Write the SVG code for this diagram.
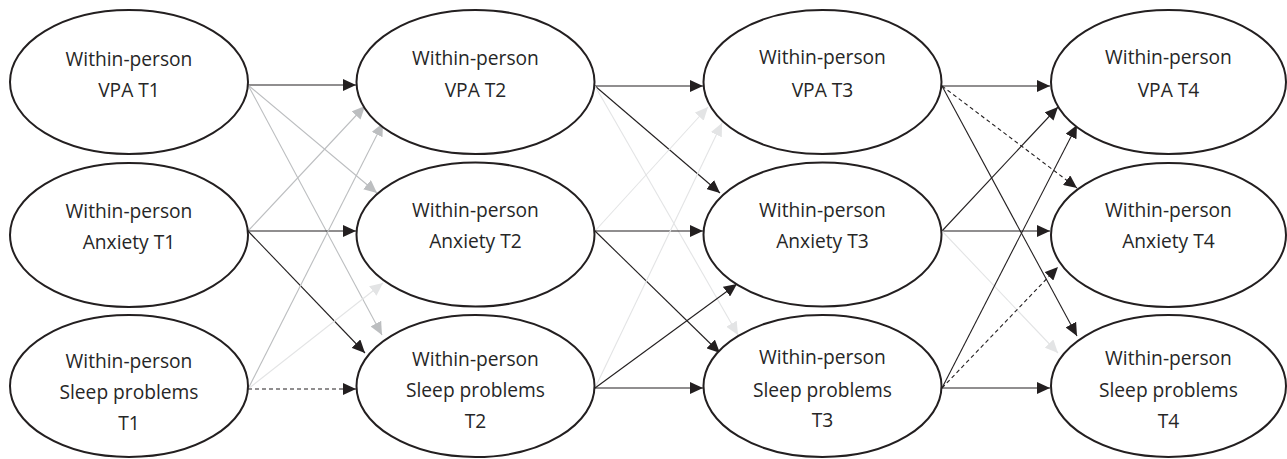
<svg xmlns="http://www.w3.org/2000/svg" width="1287" height="459" viewBox="0 0 1287 459">
<style>
.node ellipse{fill:#ffffff;stroke:#231f20;stroke-width:2}
.node text{font-family:"Open Sans","Liberation Sans",sans-serif;font-size:19.2px;fill:#262626;text-anchor:middle}
.c{fill:none;stroke-width:1.1}
.k{stroke:#231f20}
.g{stroke:#bcbec0}
.l{stroke:#e3e4e5}
.d{stroke-dasharray:4 3}
</style>
<defs>
<marker id="ak" markerUnits="userSpaceOnUse" markerWidth="14" markerHeight="12" refX="13" refY="6" orient="auto"><path d="M0,0 L13,6 L0,12 z" fill="#231f20"/></marker>
<marker id="ag" markerUnits="userSpaceOnUse" markerWidth="14" markerHeight="12" refX="13" refY="6" orient="auto"><path d="M0,0 L13,6 L0,12 z" fill="#bcbec0"/></marker>
<marker id="al" markerUnits="userSpaceOnUse" markerWidth="14" markerHeight="12" refX="13" refY="6" orient="auto"><path d="M0,0 L13,6 L0,12 z" fill="#e3e4e5"/></marker>
</defs>
<rect width="1287" height="459" fill="#ffffff"/>
<g id="connectors">
<line class="c k" x1="248" y1="85" x2="356" y2="85" marker-end="url(#ak)"/>
<line class="c g" x1="248" y1="85" x2="377" y2="193" marker-end="url(#ag)"/>
<line class="c g" x1="248" y1="85" x2="382" y2="335" marker-end="url(#ag)"/>
<line class="c g" x1="248" y1="231" x2="365" y2="106" marker-end="url(#ag)"/>
<line class="c k" x1="248" y1="231" x2="356" y2="231" marker-end="url(#ak)"/>
<line class="c k" x1="248" y1="231" x2="365" y2="353" marker-end="url(#ak)"/>
<line class="c g" x1="248" y1="389" x2="383" y2="123" marker-end="url(#ag)"/>
<line class="c l" x1="248" y1="389" x2="383" y2="283" marker-end="url(#al)"/>
<line class="c k d" x1="248" y1="389" x2="356" y2="389" marker-end="url(#ak)"/>

<line class="c k" x1="595" y1="86" x2="703" y2="86" marker-end="url(#ak)"/>
<line class="c k" x1="595" y1="86" x2="720" y2="193" marker-end="url(#ak)"/>
<line class="c l" x1="595" y1="86" x2="738" y2="335" marker-end="url(#al)"/>
<line class="c l" x1="595" y1="231" x2="708" y2="107" marker-end="url(#al)"/>
<line class="c k" x1="595" y1="231" x2="703" y2="231" marker-end="url(#ak)"/>
<line class="c k" x1="595" y1="231" x2="720" y2="353" marker-end="url(#ak)"/>
<line class="c l" x1="595" y1="388" x2="722" y2="123" marker-end="url(#al)"/>
<line class="c k" x1="595" y1="388" x2="737" y2="284" marker-end="url(#ak)"/>
<line class="c k" x1="595" y1="388" x2="703" y2="388" marker-end="url(#ak)"/>

<line class="c k" x1="942" y1="86" x2="1050" y2="86" marker-end="url(#ak)"/>
<line class="c k d" x1="942" y1="86" x2="1077" y2="188" marker-end="url(#ak)"/>
<line class="c k" x1="942" y1="86" x2="1077" y2="336" marker-end="url(#ak)"/>
<line class="c k" x1="942" y1="231" x2="1058" y2="107" marker-end="url(#ak)"/>
<line class="c k" x1="942" y1="231" x2="1050" y2="231" marker-end="url(#ak)"/>
<line class="c l" x1="942" y1="231" x2="1058" y2="353" marker-end="url(#al)"/>
<line class="c k" x1="942" y1="388" x2="1077" y2="125" marker-end="url(#ak)"/>
<line class="c k d" x1="942" y1="388" x2="1058" y2="267" marker-end="url(#ak)"/>
<line class="c k" x1="942" y1="388" x2="1050" y2="388" marker-end="url(#ak)"/>
</g>

<g id="vpa-t1" class="node"><ellipse cx="129" cy="82" rx="119" ry="72"/><text x="129" y="66">Within-person</text><text x="129" y="97">VPA T1</text></g>
<g id="anxiety-t1" class="node"><ellipse cx="129" cy="235" rx="119" ry="72"/><text x="129" y="218">Within-person</text><text x="129" y="249">Anxiety T1</text></g>
<g id="sleep-t1" class="node"><ellipse cx="129" cy="386" rx="119" ry="71"/><text x="129" y="368">Within-person</text><text x="129" y="399">Sleep problems</text><text x="129" y="430">T1</text></g>

<g id="vpa-t2" class="node"><ellipse cx="475.5" cy="82" rx="119" ry="72"/><text x="475.5" y="65">Within-person</text><text x="475.5" y="97">VPA T2</text></g>
<g id="anxiety-t2" class="node"><ellipse cx="475.5" cy="234.5" rx="119" ry="72"/><text x="475.5" y="217">Within-person</text><text x="475.5" y="248">Anxiety T2</text></g>
<g id="sleep-t2" class="node"><ellipse cx="475.5" cy="386" rx="119" ry="71"/><text x="475.5" y="366">Within-person</text><text x="475.5" y="397">Sleep problems</text><text x="475.5" y="428">T2</text></g>

<g id="vpa-t3" class="node"><ellipse cx="822.5" cy="82" rx="119" ry="72"/><text x="822.5" y="64">Within-person</text><text x="822.5" y="97">VPA T3</text></g>
<g id="anxiety-t3" class="node"><ellipse cx="822.5" cy="234.5" rx="119" ry="72"/><text x="822.5" y="217">Within-person</text><text x="822.5" y="248">Anxiety T3</text></g>
<g id="sleep-t3" class="node"><ellipse cx="822.5" cy="386" rx="119" ry="71"/><text x="822.5" y="364">Within-person</text><text x="822.5" y="397">Sleep problems</text><text x="822.5" y="427">T3</text></g>

<g id="vpa-t4" class="node"><ellipse cx="1168.5" cy="82" rx="117.5" ry="72"/><text x="1168.5" y="64">Within-person</text><text x="1168.5" y="97">VPA T4</text></g>
<g id="anxiety-t4" class="node"><ellipse cx="1168.5" cy="235" rx="117.5" ry="72"/><text x="1168.5" y="217">Within-person</text><text x="1168.5" y="248">Anxiety T4</text></g>
<g id="sleep-t4" class="node"><ellipse cx="1168.5" cy="386" rx="117.5" ry="71"/><text x="1168.5" y="365">Within-person</text><text x="1168.5" y="397">Sleep problems</text><text x="1168.5" y="428">T4</text></g>
</svg>
